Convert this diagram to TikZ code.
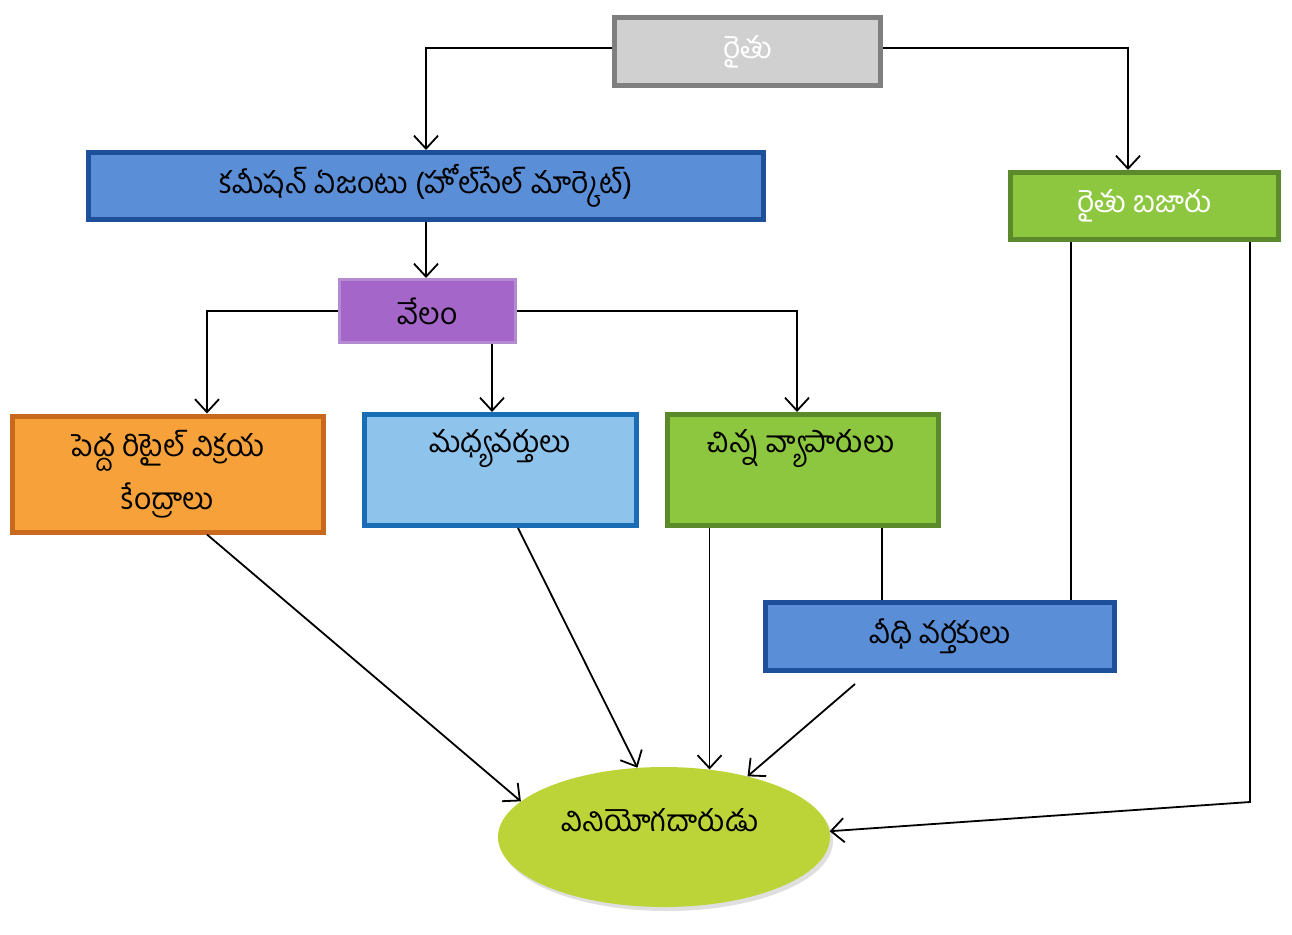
\documentclass[tikz,border=0pt]{standalone}
\usepackage{fontspec}
\newfontfamily\te[Script=Telugu]{Hind Guntur}
\usetikzlibrary{arrows.meta,shapes.geometric,shadows}
\definecolor{grayfill}{HTML}{D0D0D0}
\definecolor{grayline}{HTML}{7F7F7F}
\definecolor{bluefill}{HTML}{5A8ED6}
\definecolor{blueline}{HTML}{1E4F9A}
\definecolor{greenfill}{HTML}{8DC63F}
\definecolor{greenline}{HTML}{5A8A2A}
\definecolor{purplefill}{HTML}{A466C8}
\definecolor{purpleline}{HTML}{B48AD0}
\definecolor{orangefill}{HTML}{F6A13A}
\definecolor{orangeline}{HTML}{C8691E}
\definecolor{lbluefill}{HTML}{8EC3EC}
\definecolor{lblueline}{HTML}{1A6DB5}
\definecolor{ellfill}{HTML}{BCD438}
\tikzset{
  box/.style={rectangle, line width=5pt, inner sep=0pt, font=\te\fontsize{30}{53}\selectfont, align=center},
  txt/.style={inner sep=0pt, font=\te\fontsize{30}{53}\selectfont},
  conn/.style={line width=1.8pt, black},
  arr/.style={conn, -{Straight Barb[length=13pt,width=24pt,line width=1.8pt]}},
}
\begin{document}
\begin{tikzpicture}[x=1pt,y=-1pt]
\useasboundingbox (0,0) rectangle (1292,934);
\fill[white] (0,0) rectangle (1292,934);
% boxes
\node[box, draw=grayline, fill=grayfill, minimum width=266pt, minimum height=68pt, text=white] (top) at (747.5,51.5) {రైతు};
\node[box, draw=blueline, fill=bluefill, minimum width=675pt, minimum height=67pt] (comm) at (426,186) {కమీషన్ ఏజంటు (హోల్‌సేల్ మార్కెట్)};
\node[box, draw=greenline, fill=greenfill, minimum width=268pt, minimum height=67pt, text=white] (raitu) at (1144.5,206) {రైతు బజారు};
\node[box, draw=purpleline, fill=purplefill, line width=3pt, minimum width=176pt, minimum height=63pt] (velam) at (427.5,311) {వేలం};
\node[box, draw=orangeline, fill=orangefill, minimum width=311pt, minimum height=116pt] (orange) at (168,474) {పెద్ద రిటైల్ విక్రయ\\కేంద్రాలు};
\node[box, draw=lblueline, fill=lbluefill, minimum width=272pt, minimum height=111pt] (madhya) at (500.5,470) {};
\node[txt] (madhyaT) at (500,449) {మధ్యవర్తులు};
\node[box, draw=greenline, fill=greenfill, minimum width=271pt, minimum height=111pt] (chinna) at (803,470) {};
\node[txt] (chinnaT) at (801,449) {చిన్న వ్యాపారులు};
\node[box, draw=blueline, fill=bluefill, minimum width=349pt, minimum height=68pt] (veedhi) at (940,636.5) {వీధి వర్తకులు};
\node[ellipse, fill=ellfill, minimum width=332pt, minimum height=140pt, inner sep=0pt,
      drop shadow={opacity=0.25, shadow xshift=3pt, shadow yshift=-4pt}] (cons) at (664,837) {};
\node[txt] (consT) at (660,820) {వినియోగదారుడు};
% connectors
\draw[arr] ([yshift=3.5pt]top.west) -| (comm.north);
\draw[arr] ([yshift=3.5pt]top.east) -| ([xshift=-16.5pt]raitu.north);
\draw[arr] (comm.south) -- (comm.south |- velam.north);
\draw[arr] (velam.west) -| ([xshift=39pt]orange.north);
\draw[arr] ([xshift=64.5pt]velam.south) -- ([xshift=64.5pt]velam.south |- madhya.north);
\draw[arr] (velam.east) -| ([xshift=-6pt]chinna.north);
\draw[arr] ([xshift=39pt]orange.south) -- (cons.166);
\draw[arr] ([xshift=17.5pt]madhya.south) -- (cons.111);
\draw[arr] (cons.56.3 |- chinna.south) -- (cons.56.3);
\draw[conn] ([xshift=79pt]chinna.south) -- ([xshift=79pt]chinna.south |- veedhi.north);
\draw[conn] ([xshift=-73.5pt]raitu.south) -- ([xshift=-73.5pt]raitu.south |- veedhi.north);
\draw[arr] ([xshift=105.5pt]raitu.south) -- ++(0,560) -- (cons.2);
\draw[arr] ([xshift=-85pt,yshift=-11pt]veedhi.south) -- (cons.36);
\end{tikzpicture}
\end{document}
